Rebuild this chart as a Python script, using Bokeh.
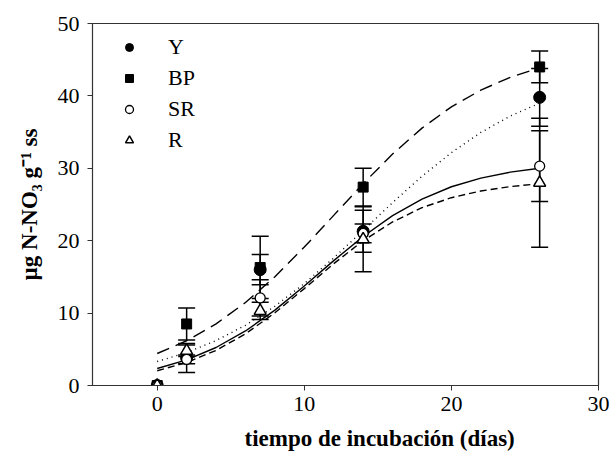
from bokeh.plotting import figure
from bokeh.models import Range1d, Whisker, ColumnDataSource, Legend, LegendItem, FixedTicker, TeeHead, Title
from bokeh.embed import file_html
from bokeh.resources import INLINE

# ---- data ----
days = [0, 2, 7, 14, 26]
y_Y = [0, 3.8, 16.0, 21.3, 39.8]
e_Y = [0, 2.0, 2.1, 2.9, 4.0]
y_BP = [0, 8.5, 16.3, 27.4, 44.0]
e_BP = [0, 2.2, 4.3, 2.6, 2.2]
y_SR = [0, 3.6, 12.1, 21.0, 30.3]
e_SR = [0, 0.6, 2.5, 1.3, 4.9]
y_R = [0, 4.8, 10.3, 20.2, 28.0]
e_R = [0, 0.8, 1.2, 4.5, 8.9]

# fitted curves
curve_x = [0, 2, 4, 6, 8, 10, 12, 14, 16, 18, 20, 22, 24, 26]
curve_Y = [3.31, 4.56, 6.20, 8.32, 10.95, 14.08, 17.62, 21.42, 25.26, 28.90, 32.16, 34.95, 37.22, 39.0]
curve_BP = [4.42, 6.18, 8.51, 11.46, 15.02, 19.12, 23.5, 27.88, 31.97, 35.55, 38.49, 40.80, 42.57, 43.88]
curve_SR = [2.35, 3.55, 5.25, 7.53, 10.41, 13.75, 17.25, 20.58, 23.47, 25.75, 27.45, 28.65, 29.47, 30.01]
curve_R = [2.04, 3.18, 4.85, 7.13, 10.04, 13.38, 16.83, 19.99, 22.59, 24.56, 25.94, 26.87, 27.48, 27.86]

series_names = ["Y", "BP", "SR", "R"]
x_ticks = [0, 10, 20, 30]
y_ticks = [0, 10, 20, 30, 40, 50]
x_title = "tiempo de incubación (días)"
y_title = "µg N-NO₃ g⁻¹ ss"

FONT = "'Times New Roman', 'Liberation Serif', serif"

p = figure(width=610, height=461, output_backend="svg", toolbar_location=None,
           x_range=Range1d(-4.4, 30), y_range=Range1d(0, 50),
           min_border_left=92, min_border_right=12, min_border_top=23, min_border_bottom=76)
p.grid.visible = False
p.outline_line_color = "#333333"
p.outline_line_width = 1.2
p.background_fill_color = "white"
p.border_fill_color = "white"

for ax in (p.xaxis[0], p.yaxis[0]):
    ax.major_label_text_font = FONT
    ax.major_label_text_font_size = "22px"
    ax.major_label_text_color = "black"
    ax.major_tick_in = 0
    ax.major_tick_out = 5
    ax.minor_tick_in = 0
    ax.minor_tick_out = 0
    ax.axis_line_color = "#333333"
    ax.major_tick_line_color = "#333333"

p.xaxis.ticker = FixedTicker(ticks=x_ticks)
p.yaxis.ticker = FixedTicker(ticks=y_ticks)
p.xaxis.major_label_standoff = 6
p.yaxis.major_label_standoff = 8

# axis titles (x title sits right of centre in the reference)
xt = Title(text=x_title, align="left", offset=152, standoff=20, text_font=FONT,
           text_font_size="23px", text_font_style="bold", text_color="black")
p.add_layout(xt, "below")
yt = Title(text=y_title, align="center", standoff=26, text_font=FONT,
           text_font_size="23px", text_font_style="bold", text_color="black")
p.add_layout(yt, "left")

# curves
p.line(curve_x, curve_Y, line_color="black", line_width=1.4, line_dash="1 4")
p.line(curve_x, curve_BP, line_color="black", line_width=1.4, line_dash="13 7")
p.line(curve_x, curve_SR, line_color="black", line_width=1.4)
p.line(curve_x, curve_R, line_color="black", line_width=1.4, line_dash="7 4")

# error bars
for ys, es in ((y_Y, e_Y), (y_BP, e_BP), (y_SR, e_SR), (y_R, e_R)):
    xs = [d for d, e in zip(days, es) if e > 0]
    lo = [v - e for v, e in zip(ys, es) if e > 0]
    hi = [v + e for v, e in zip(ys, es) if e > 0]
    src = ColumnDataSource(dict(x=xs, lo=lo, hi=hi))
    w = Whisker(base="x", lower="lo", upper="hi", source=src, level="underlay",
                line_color="black", line_width=1.5,
                upper_head=TeeHead(size=17, line_width=1.5, line_color="black"),
                lower_head=TeeHead(size=17, line_width=1.5, line_color="black"))
    p.add_layout(w)

# markers
rY = p.scatter(days, y_Y, marker="circle", size=12, fill_color="black", line_color="black")
rBP = p.scatter(days, y_BP, marker="square", size=10, fill_color="black", line_color="black")
rSR = p.scatter(days, y_SR, marker="circle", size=10, fill_color="white", line_color="black", line_width=1.3)
rR = p.scatter(days, y_R, marker="triangle", size=12, fill_color="white", line_color="black", line_width=1.5)

legend = Legend(items=[LegendItem(label=n, renderers=[r]) for n, r in
                       zip(series_names, [rY, rBP, rSR, rR])],
                location=(27, 232), orientation="vertical")
legend.label_text_font = FONT
legend.label_text_font_size = "22px"
legend.label_text_color = "black"
legend.glyph_width = 20
legend.glyph_height = 20
legend.label_height = 20
legend.spacing = 5
legend.padding = 0
legend.margin = 0
legend.label_standoff = 29
legend.border_line_color = None
legend.background_fill_alpha = 0
p.add_layout(legend)

open("out.html", "w").write(file_html(p, INLINE))
